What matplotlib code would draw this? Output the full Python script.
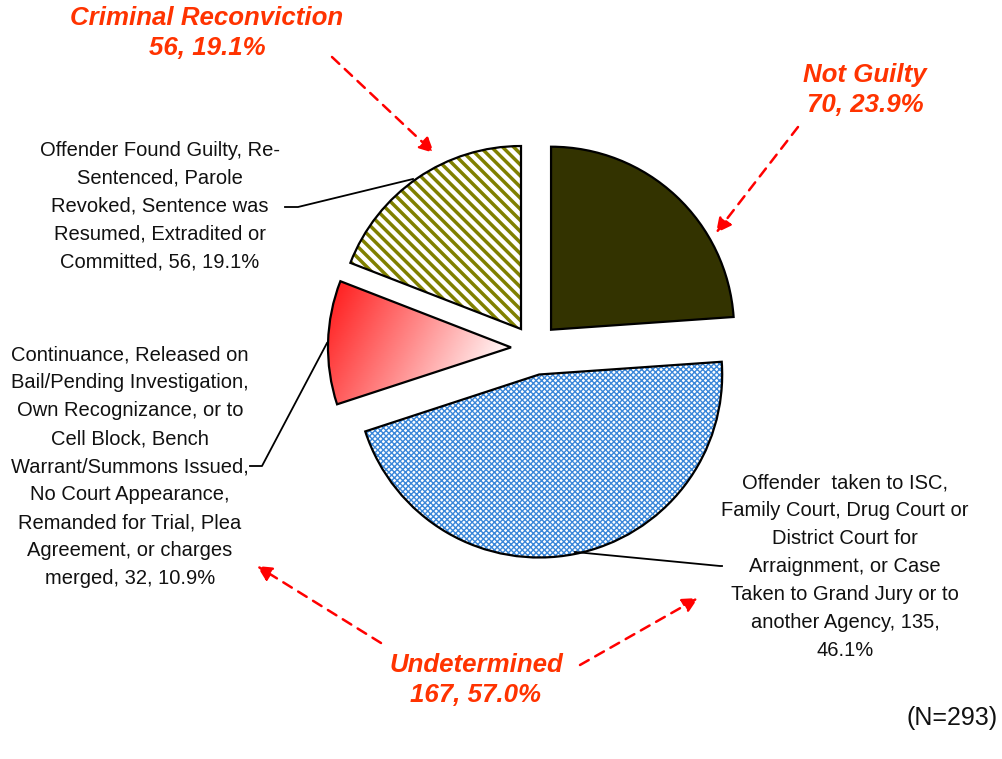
import numpy as np
import matplotlib
matplotlib.use("Agg")
import matplotlib.pyplot as plt
from matplotlib.patches import PathPatch
from matplotlib.colors import LinearSegmentedColormap

plt.rcParams['font.family'] = ['Liberation Sans', 'DejaVu Sans']

# data (clockwise from 12 o'clock)
categories = ["Not Guilty",
              "Offender taken to ISC",
              "Continuance",
              "Offender Found Guilty"]
counts = [70, 135, 32, 56]
percents = [23.9, 46.1, 10.9, 19.1]

group_names = ["Criminal Reconviction", "Not Guilty", "Undetermined"]
group_counts = [56, 70, 167]
group_percents = [19.1, 23.9, 57.0]
total_n = 293

slice_labels = [
    None,
    "Offender  taken to ISC,\nFamily Court, Drug Court or\nDistrict Court for\n"
    "Arraignment, or Case\nTaken to Grand Jury or to\nanother Agency, %d,\n%.1f%%" % (counts[1], percents[1]),
    "Continuance, Released on\nBail/Pending Investigation,\nOwn Recognizance, or to\n"
    "Cell Block, Bench\nWarrant/Summons Issued,\nNo Court Appearance,\n"
    "Remanded for Trial, Plea\nAgreement, or charges\nmerged, %d, %.1f%%" % (counts[2], percents[2]),
    "Offender Found Guilty, Re-\nSentenced, Parole\nRevoked, Sentence was\n"
    "Resumed, Extradited or\nCommitted, %d, %.1f%%" % (counts[3], percents[3]),
]

W, H = 1002, 759
fig = plt.figure(figsize=(W / 100, H / 100), dpi=100)
ax = fig.add_axes([0, 0, 1, 1])

# y axis inverted -> pixel-like coords, so counterclockwise in data = clockwise on screen
# (pie's explode offsets are in data units, i.e. pixels here)
explode_px = [25, 27, 23, 23]
wedges, _ = ax.pie(counts, explode=explode_px, startangle=-90, counterclock=True,
                   center=(534, 348), radius=183, frame=True,
                   wedgeprops=dict(linewidth=0))
ax.set_xlim(0, W)
ax.set_ylim(H, 0)
ax.set_aspect('equal')
ax.axis('off')


def style_hatch(w, face, hcolor, hatch, hlw):
    plt.rcParams['hatch.linewidth'] = hlw
    w.set_facecolor(face)
    w.set_edgecolor(hcolor)
    w.set_linewidth(0)
    w.set_hatch(hatch)
    if hasattr(w, 'set_hatch_linewidth'):
        w.set_hatch_linewidth(hlw)


# Not Guilty - solid dark olive
wedges[0].set_facecolor('#333300')
# Taken to ISC - blue fine crosshatch
style_hatch(wedges[1], 'white', '#3b87d9', 'xxxxxx', 1.0)
# Criminal reconviction - olive stripes
style_hatch(wedges[3], 'white', '#808000', '\\\\\\', 2.5)

# Continuance - red to white gradient, clipped to its wedge
w = wedges[2]
w.set_facecolor('none')
ext = (300, 540, 420, 270)
xx, yy = np.meshgrid(np.linspace(ext[0], ext[1], 300), np.linspace(ext[3], ext[2], 200))
t = ((xx - 330) * 0.9 + (yy - 285) * 0.45) / 195
t = np.clip(t, 0, 1)
cmap = LinearSegmentedColormap.from_list('rw', ['#ff1a1a', '#ff8a8a', '#ffffff'])
img = ax.imshow(t, cmap=cmap, vmin=0, vmax=1, extent=ext, origin='upper',
                zorder=1.5, interpolation='bilinear')
img.set_clip_path(w)
ax.set_xlim(0, W)
ax.set_ylim(H, 0)

# outlines on top of the fills
for w in wedges:
    ax.add_patch(PathPatch(w.get_path(), transform=w.get_transform(), facecolor='none',
                           edgecolor='black', linewidth=1.6, zorder=3))

# slice labels with leader lines
lab_fs = 14.5
lab_ls = 1.6
ax.text(160, 206, slice_labels[3], ha='center', va='center', fontsize=lab_fs,
        linespacing=lab_ls, color='#111111')
ax.plot([285, 298, 413], [207, 207, 179], color='black', lw=1.3, zorder=4)

ax.text(130, 467, slice_labels[2], ha='center', va='center', fontsize=lab_fs,
        linespacing=lab_ls, color='#111111')
ax.plot([250, 262, 327], [466, 466, 343], color='black', lw=1.3, zorder=4)

ax.text(845, 567, slice_labels[1], ha='center', va='center', fontsize=lab_fs,
        linespacing=lab_ls, color='#111111')
ax.plot([575, 720, 722], [552, 566, 566], color='black', lw=1.3, zorder=4)

# group labels
red_txt = '#ff3300'
group_pos = [(207, 33), (865, 90), (476, 680)]
for name, n, pct, (x, y) in zip(group_names, group_counts, group_percents, group_pos):
    ax.text(x, y, "%s\n%d, %.1f%%" % (name, n, pct), ha='center', va='center',
            fontsize=18.6, fontweight='bold', fontstyle='italic', color=red_txt,
            linespacing=1.33)

# dashed arrows
arrows = [((332, 57), (434, 153)),
          ((798, 127), (716, 233)),
          ((381, 643), (257, 566)),
          ((580, 665), (698, 598))]
for (x0, y0), (x1, y1) in arrows:
    ax.annotate("", xy=(x1, y1), xytext=(x0, y0),
                arrowprops=dict(arrowstyle='-|>,head_length=0.9,head_width=0.45',
                                color='#ff0000', lw=1.8, linestyle=(0, (4, 3)),
                                shrinkA=0, shrinkB=0), zorder=5)

ax.text(952, 718, "(N=%d)" % total_n, ha='center', va='center', fontsize=18, color='#111111')

fig.savefig("out.png", dpi=100)
